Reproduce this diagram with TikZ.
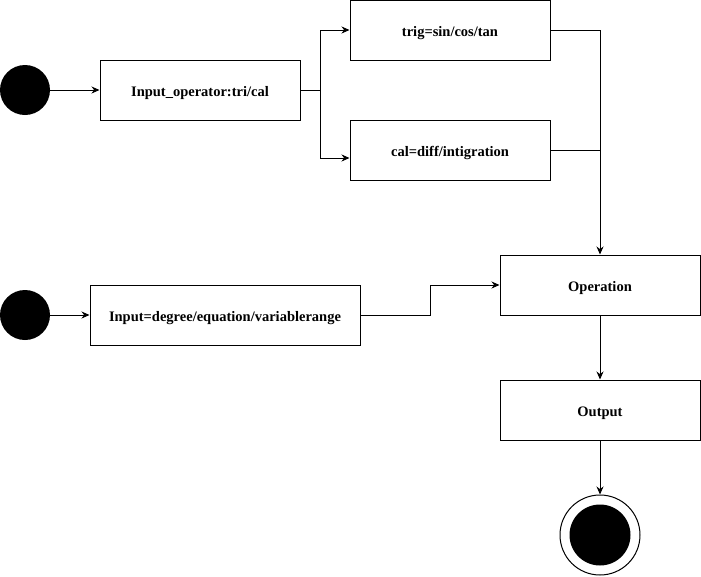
\documentclass[tikz,border=0pt]{standalone}
\usepackage{fontspec}
\setmainfont{Liberation Serif}
\usetikzlibrary{arrows.meta}
\begin{document}
\begin{tikzpicture}[x=1pt,y=-1pt,
  every node/.style={font=\bfseries\fontsize{14.5}{16}\selectfont},
  stepbox/.style={draw,line width=1pt,inner sep=0pt,minimum height=60pt,text height=13pt,text depth=0pt},
  startdot/.style={circle,fill=black,inner sep=0pt,minimum size=50pt},
  arr/.style={line width=1pt,-{Stealth[length=8pt,width=7pt]}},
  ln/.style={line width=1pt}]
\useasboundingbox (0,0) rectangle (701,576);

% upper input chain
\node[startdot] (s1) at (25,90) {};
\node[stepbox,minimum width=200pt] (inop) at (200,90) {Input\_operator:tri/cal};
\node[stepbox,minimum width=200pt] (trig) at (450,30) {trig=sin/cos/tan};
\node[stepbox,minimum width=200pt] (cal) at (450,150) {cal=diff/intigration};

% lower input chain
\node[startdot] (s2) at (25,315) {};
\node[stepbox,minimum width=270pt] (in2) at (225,315) {Input=degree/equation/variablerange};

% processing and result
\node[stepbox,minimum width=200pt] (op) at (600,285) {Operation};
\node[stepbox,minimum width=200pt] (out) at (600,410) {Output};
\node[circle,draw,line width=1pt,inner sep=0pt,minimum size=80pt] (fin) at (600,535) {};
\node[circle,fill=black,inner sep=0pt,minimum size=61pt] (finc) at (fin) {};

% connectors
\draw[arr] (s1) -- (inop);
\draw[arr] (inop.east) -- ++(20,0) |- (trig.west);
\draw[arr] (inop.east) -- ++(20,0) |- ([yshift=-8pt]cal.west);
\draw[arr] (trig.east) -| (op.north);
\draw[ln] (cal.east) -- (cal.east -| op.north);
\draw[arr] (s2) -- (in2);
\draw[arr] (in2.east) -- ++(70,0) |- (op.west);
\draw[arr] (op) -- (out);
\draw[arr] (out) -- (fin);
\end{tikzpicture}
\end{document}
